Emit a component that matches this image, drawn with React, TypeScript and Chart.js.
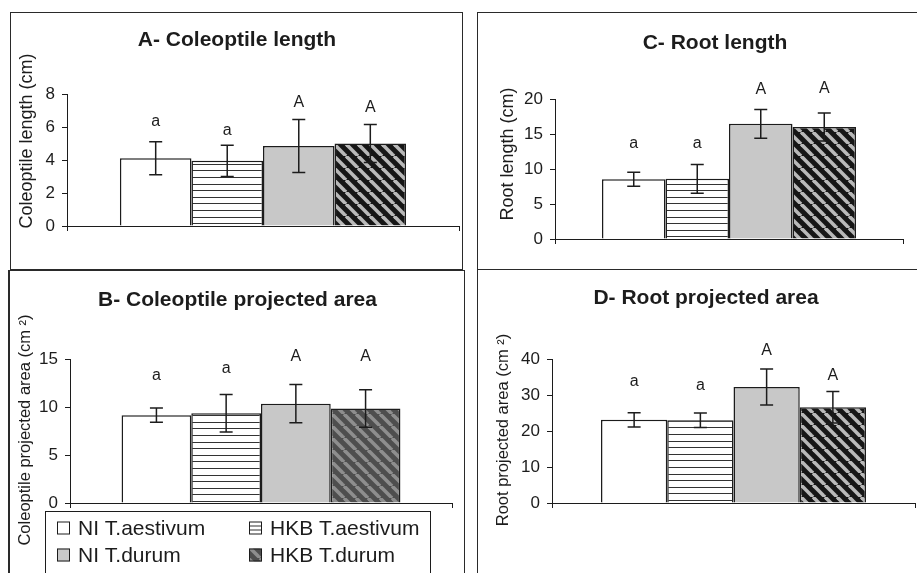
import React, { useEffect, useRef } from 'react';
import { Chart, registerables } from 'chart.js';

Chart.register(...registerables);

// ---------------- data ----------------
const seriesNames = ['NI T.aestivum', 'HKB T.aestivum', 'NI T.durum', 'HKB T.durum'];
const categories = [''];

const coleoptileLength = [4.1, 3.95, 4.85, 5.0];
const coleoptileLengthErr = [1.0, 0.95, 1.6, 1.15];
const coleoptileLengthLetters = ['a', 'a', 'A', 'A'];
const coleoptileLengthLetterY = [6.3, 5.8, 7.45, 7.2];
const coleoptileLengthTicks = { max: 8, step: 2 };

const coleoptileArea = [9.15, 9.35, 10.35, 9.85];
const coleoptileAreaErr = [0.75, 1.95, 2.0, 1.95];
const coleoptileAreaLetters = ['a', 'a', 'A', 'A'];
const coleoptileAreaLetterY = [13.3, 14.0, 15.3, 15.2];
const coleoptileAreaTicks = { max: 15, step: 5 };

const rootLength = [8.55, 8.6, 16.45, 16.0];
const rootLengthErr = [1.0, 2.05, 2.05, 2.0];
const rootLengthLetters = ['a', 'a', 'A', 'A'];
const rootLengthLetterY = [13.6, 13.6, 21.3, 21.5];
const rootLengthTicks = { max: 20, step: 5 };

const rootArea = [23.1, 23.0, 32.2, 26.6];
const rootAreaErr = [2.0, 2.0, 5.0, 4.4];
const rootAreaLetters = ['a', 'a', 'A', 'A'];
const rootAreaLetterY = [33.6, 32.7, 42.4, 35.5];
const rootAreaTicks = { max: 40, step: 10 };

// ---------------- style ----------------
const FONT = "'Liberation Sans', Arial, Helvetica, sans-serif";
const INK = '#1c1c1c';

type Panel = {
  left: number; top: number; width: number; height: number;
  yWidth: number; padTop: number; padRight: number; xHeight: number;
  max: number; step: number;
  values: number[]; errors: number[]; letters: string[]; letterY: number[];
  title: string; titleX: number; titleY: number;
  yTitle: string; yTitleX: number; yTitleY: number; yTitleSize: number;
  darkDiag: boolean; legend: boolean;
};

const panels: Panel[] = [
  {
    left: 10, top: 12, width: 452, height: 258,
    yWidth: 57, padTop: 82, padRight: 3, xHeight: 44,
    max: coleoptileLengthTicks.max, step: coleoptileLengthTicks.step,
    values: coleoptileLength, errors: coleoptileLengthErr,
    letters: coleoptileLengthLetters, letterY: coleoptileLengthLetterY,
    title: 'A- Coleoptile length', titleX: 227, titleY: 28,
    yTitle: 'Coleoptile length (cm)', yTitleX: 17, yTitleY: 129, yTitleSize: 18,
    darkDiag: false, legend: false,
  },
  {
    left: 8, top: 270, width: 456, height: 303,
    yWidth: 62, padTop: 89, padRight: 12, xHeight: 70,
    max: coleoptileAreaTicks.max, step: coleoptileAreaTicks.step,
    values: coleoptileArea, errors: coleoptileAreaErr,
    letters: coleoptileAreaLetters, letterY: coleoptileAreaLetterY,
    title: 'B- Coleoptile projected area', titleX: 229.5, titleY: 30,
    yTitle: 'Coleoptile projected area (cm ²)', yTitleX: 17, yTitleY: 160, yTitleSize: 16.5,
    darkDiag: true, legend: true,
  },
  {
    left: 477, top: 12, width: 440, height: 257,
    yWidth: 78, padTop: 87, padRight: 14, xHeight: 30,
    max: rootLengthTicks.max, step: rootLengthTicks.step,
    values: rootLength, errors: rootLengthErr,
    letters: rootLengthLetters, letterY: rootLengthLetterY,
    title: 'C- Root length', titleX: 238, titleY: 31,
    yTitle: 'Root length (cm)', yTitleX: 31, yTitleY: 142, yTitleSize: 18,
    darkDiag: false, legend: false,
  },
  {
    left: 477, top: 269, width: 440, height: 304,
    yWidth: 75, padTop: 90, padRight: 2, xHeight: 70,
    max: rootAreaTicks.max, step: rootAreaTicks.step,
    values: rootArea, errors: rootAreaErr,
    letters: rootAreaLetters, letterY: rootAreaLetterY,
    title: 'D- Root projected area', titleX: 229, titleY: 29,
    yTitle: 'Root projected area (cm ²)', yTitleX: 26, yTitleY: 161, yTitleSize: 16.5,
    darkDiag: false, legend: false,
  },
];

function hPattern(ctx: CanvasRenderingContext2D) {
  const c = document.createElement('canvas');
  c.width = 4; c.height = 33;
  const g = c.getContext('2d')!;
  g.fillStyle = '#ffffff';
  g.fillRect(0, 0, 4, 33);
  g.fillStyle = '#333333';
  for (const r of [0, 7, 13, 20, 26]) g.fillRect(0, r, 4, 1);
  return ctx.createPattern(c, 'repeat')!;
}

function diagPattern(ctx: CanvasRenderingContext2D, bg: string, fg: string) {
  const s = 12;
  const c = document.createElement('canvas');
  c.width = s; c.height = s;
  const g = c.getContext('2d')!;
  g.fillStyle = bg;
  g.fillRect(0, 0, s, s);
  g.strokeStyle = fg;
  g.lineWidth = 3.6;
  for (const o of [-s, 0, s]) {
    g.beginPath();
    g.moveTo(o, 0);
    g.lineTo(o + s, s);
    g.stroke();
  }
  return ctx.createPattern(c, 'repeat')!;
}

function PanelChart({ p }: { p: Panel }) {
  const ref = useRef<HTMLCanvasElement>(null);
  useEffect(() => {
    const canvas = ref.current!;
    const ctx = canvas.getContext('2d')!;
    const diag = p.darkDiag ? diagPattern(ctx, '#4e4e4e', '#8e8e8e') : diagPattern(ctx, '#161616', '#b9b9b9');
    const fills: (string | CanvasPattern)[] = ['#ffffff', hPattern(ctx), '#c8c8c8', diag];

    const decor = {
      id: 'panelDecor',
      afterDatasetsDraw(chart: any) {
        const c = chart.ctx as CanvasRenderingContext2D;
        const ys = chart.scales.y;
        c.save();
        chart.data.datasets.forEach((ds: any, i: number) => {
          const el = chart.getDatasetMeta(i).data[0];
          const x = el.x;
          const v = ds.data[0] as number;
          const e = p.errors[i];
          const yT = ys.getPixelForValue(v + e);
          const yB = ys.getPixelForValue(v - e);
          c.strokeStyle = INK;
          c.lineWidth = 1.5;
          c.beginPath();
          c.moveTo(x, yT); c.lineTo(x, yB);
          c.moveTo(x - 6.5, yT); c.lineTo(x + 6.5, yT);
          c.moveTo(x - 6.5, yB); c.lineTo(x + 6.5, yB);
          c.stroke();
          c.fillStyle = INK;
          c.font = `16px ${FONT}`;
          c.textAlign = 'center';
          c.textBaseline = 'middle';
          c.fillText(p.letters[i], x, ys.getPixelForValue(p.letterY[i]));
        });
        c.restore();
      },
      afterDraw(chart: any) {
        const c = chart.ctx as CanvasRenderingContext2D;
        c.save();
        c.fillStyle = INK;
        c.font = `bold 21px ${FONT}`;
        c.textAlign = 'center';
        c.textBaseline = 'middle';
        c.fillText(p.title, p.titleX, p.titleY);
        c.save();
        c.translate(p.yTitleX, p.yTitleY);
        c.rotate(-Math.PI / 2);
        c.font = `${p.yTitleSize}px ${FONT}`;
        c.fillText(p.yTitle, 0, 0);
        c.restore();
        if (p.legend) {
          c.strokeStyle = INK;
          c.lineWidth = 1;
          c.fillStyle = '#ffffff';
          c.fillRect(37.5, 241.5, 385, 80);
          c.strokeRect(37.5, 241.5, 385, 80);
          const pos = [[49, 258], [241, 258], [49, 285], [241, 285]];
          chart.data.datasets.forEach((ds: any, i: number) => {
            const [sx, cy] = pos[i];
            const sy = cy - 6.5;
            c.fillStyle = (i === 1 ? '#ffffff' : fills[i]) as any;
            c.fillRect(sx, sy, 13, 13);
            if (i === 1) {
              c.fillStyle = '#333333';
              c.fillRect(sx, sy + 4, 13, 1);
              c.fillRect(sx, sy + 8, 13, 1);
            }
            c.strokeStyle = INK;
            c.lineWidth = 1;
            c.strokeRect(sx + 0.5, sy + 0.5, 12, 12);
            c.fillStyle = INK;
            c.font = `21px ${FONT}`;
            c.textAlign = 'left';
            c.textBaseline = 'middle';
            c.fillText(ds.label, sx + 21, cy + 1);
          });
        }
        c.restore();
      },
    };

    const chart = new Chart(canvas, {
      type: 'bar',
      data: {
        labels: categories,
        datasets: seriesNames.map((name, i) => ({
          label: name,
          data: [p.values[i]],
          backgroundColor: fills[i] as any,
          borderColor: INK,
          borderWidth: 1.5,
          categoryPercentage: 0.73,
          barPercentage: 1,
        })),
      },
      options: {
        animation: false,
        responsive: false,
        events: [],
        layout: { padding: { top: p.padTop, right: p.padRight, left: 0, bottom: 0 } },
        plugins: {
          legend: { display: false },
          title: { display: false },
          tooltip: { enabled: false },
        },
        scales: {
          x: {
            ticks: { display: false },
            grid: { drawOnChartArea: false, drawTicks: true, tickLength: 5, color: INK, offset: true },
            border: { color: INK, width: 1 },
            afterFit: (s: any) => { s.height = p.xHeight; },
          },
          y: {
            min: 0,
            max: p.max,
            ticks: {
              stepSize: p.step,
              color: INK,
              padding: 7,
              font: { size: 17, family: FONT },
            },
            grid: { drawOnChartArea: false, drawTicks: true, tickLength: 5, color: INK },
            border: { color: INK, width: 1 },
            afterFit: (s: any) => { s.width = p.yWidth; },
          },
        },
      },
      plugins: [decor],
    });
    return () => chart.destroy();
  }, []);
  return (
    <canvas
      ref={ref}
      width={p.width}
      height={p.height}
      style={{ position: 'absolute', left: p.left, top: p.top }}
    />
  );
}

const boxes = [
  { left: 10, top: 12, width: 453, height: 258, bl: 1 },
  { left: 8, top: 270, width: 457, height: 330, bl: 2 },
  { left: 477, top: 12, width: 470, height: 258, bl: 1 },
  { left: 477, top: 269, width: 470, height: 330, bl: 1 },
];

export default function App() {
  return (
    <div style={{ position: 'absolute', left: 0, top: 0, width: 917, height: 573, overflow: 'hidden', background: '#fff' }}>
      {boxes.map((b, i) => (
        <div
          key={i}
          style={{
            position: 'absolute', left: b.left, top: b.top, width: b.width, height: b.height,
            boxSizing: 'border-box', border: '1px solid #2a2a2a', borderLeftWidth: b.bl,
          }}
        />
      ))}
      {panels.map((p, i) => <PanelChart key={i} p={p} />)}
    </div>
  );
}
